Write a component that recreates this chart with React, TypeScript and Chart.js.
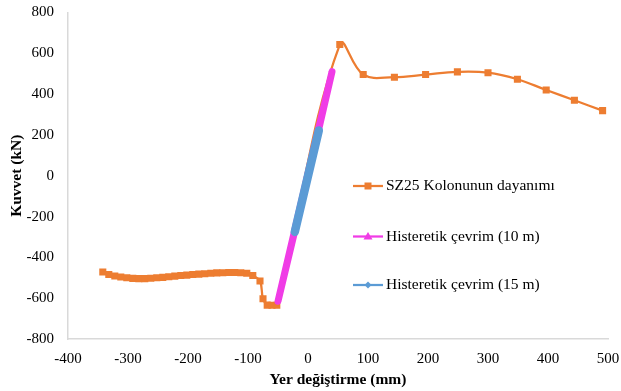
import React, { useEffect, useRef } from 'react';
import { Chart, registerables } from 'chart.js';

Chart.register(...registerables);

// SZ25 column resistance curve
const resistanceX = [-342, -332, -322, -312, -302, -292, -282, -272, -262, -252, -242, -232, -222, -212, -202, -192, -182, -172, -162, -152, -142, -132, -122, -112, -102, -92, -80, -75, -68, -60, -52, 53, 92, 144, 196, 249, 300, 349, 397, 444, 491];
const resistanceY = [-472, -484, -491, -496, -500, -503, -504, -504, -502, -500, -498, -495, -492, -489, -487, -484, -482, -480, -478, -476, -475, -474, -474, -475, -478, -489, -516, -603, -634, -635, -635, 643, 496, 483, 496, 509, 505, 473, 420, 370, 319];

// Hysteretic cycle (10 m)
const cycle10X = [0, 40, -50, 0];
const cycle10Y = [0, 510, -615, 0];

// Hysteretic cycle (15 m)
const cycle15X = [0, 18, -22, 0];
const cycle15Y = [0, 222, -275, 0];

const seriesLabels = ['SZ25 Kolonunun dayanımı', 'Histeretik çevrim (10 m)', 'Histeretik çevrim (15 m)'];
const seriesColors = ['#ED7D31', '#F03CE6', '#5B9BD5'];

const xMin = -400, xMax = 500, xStep = 100;
const yMin = -800, yMax = 800, yStep = 200;
const xTitle = 'Yer değiştirme (mm)';
const yTitle = 'Kuvvet (kN)';

const SERIF = '"Liberation Serif", "Times New Roman", serif';

const zip = (xs: number[], ys: number[]) => xs.map((x, i) => ({ x, y: ys[i] }));

const legendPlugin = {
  id: 'customLegend',
  afterDraw(chart: any) {
    const ctx = chart.ctx as CanvasRenderingContext2D;
    const rows = [186, 236.5, 285];
    const x0 = 353, x1 = 383, mx = 368, tx = 386;
    ctx.save();
    rows.forEach((y, i) => {
      const c = seriesColors[i];
      ctx.strokeStyle = c;
      ctx.fillStyle = c;
      ctx.lineWidth = 2.25;
      ctx.beginPath();
      ctx.moveTo(x0, y);
      ctx.lineTo(x1, y);
      ctx.stroke();
      ctx.beginPath();
      if (i === 0) {
        ctx.rect(mx - 3.5, y - 3.5, 7, 7);
      } else if (i === 1) {
        ctx.moveTo(mx, y - 4.5);
        ctx.lineTo(mx + 4.5, y + 3);
        ctx.lineTo(mx - 4.5, y + 3);
        ctx.closePath();
      } else {
        ctx.moveTo(mx, y - 3.5);
        ctx.lineTo(mx + 3.5, y);
        ctx.lineTo(mx, y + 3.5);
        ctx.lineTo(mx - 3.5, y);
        ctx.closePath();
      }
      ctx.fill();
      ctx.fillStyle = '#000';
      ctx.font = '15.5px ' + SERIF;
      ctx.textBaseline = 'middle';
      ctx.textAlign = 'left';
      ctx.fillText(seriesLabels[i], tx, y);
    });
    ctx.restore();
  },
};

export default function App() {
  const ref = useRef<HTMLCanvasElement | null>(null);

  useEffect(() => {
    if (!ref.current) return;
    const chart = new Chart(ref.current, {
      type: 'scatter',
      data: {
        datasets: [
          {
            label: seriesLabels[0],
            data: zip(resistanceX, resistanceY),
            showLine: true,
            borderColor: seriesColors[0],
            backgroundColor: seriesColors[0],
            borderWidth: 2.25,
            tension: 0.4,
            pointStyle: 'rect',
            pointRadius: 5,
            pointBorderWidth: 0,
            order: 3,
          },
          {
            label: seriesLabels[1],
            data: zip(cycle10X, cycle10Y),
            showLine: true,
            borderColor: seriesColors[1],
            backgroundColor: seriesColors[1],
            borderWidth: 7,
            borderCapStyle: 'round',
            borderJoinStyle: 'round',
            pointRadius: 0,
            tension: 0,
            order: 2,
          },
          {
            label: seriesLabels[2],
            data: zip(cycle15X, cycle15Y),
            showLine: true,
            borderColor: seriesColors[2],
            backgroundColor: seriesColors[2],
            borderWidth: 8.5,
            borderCapStyle: 'round',
            borderJoinStyle: 'round',
            pointRadius: 0,
            tension: 0,
            order: 1,
          },
        ],
      },
      options: {
        responsive: false,
        animation: false,
        devicePixelRatio: 1,
        layout: { padding: { top: 12.5, right: 13, left: 0, bottom: 0 } },
        plugins: { legend: { display: false }, tooltip: { enabled: false } },
        scales: {
          x: {
            type: 'linear',
            min: xMin,
            max: xMax,
            afterFit: (s: any) => { s.height = 52; s.paddingLeft = 0; s.paddingRight = 0; },
            ticks: { stepSize: xStep, padding: 11, color: '#000', font: { family: SERIF, size: 15 } },
            grid: { display: false, drawTicks: false },
            border: { display: true, color: '#D9D9D9', width: 1.5 },
            title: { display: true, text: xTitle, color: '#000', padding: { top: 0, bottom: 2 }, font: { family: SERIF, size: 15.5, weight: 'bold' } },
          },
          y: {
            type: 'linear',
            min: yMin,
            max: yMax,
            afterFit: (s: any) => { s.width = 68; s.paddingTop = 0; s.paddingBottom = 0; },
            ticks: { stepSize: yStep, padding: 14, color: '#000', font: { family: SERIF, size: 15 } },
            grid: { display: false, drawTicks: false },
            border: { display: true, color: '#D9D9D9', width: 1.5 },
            title: { display: true, text: yTitle, color: '#000', padding: { top: 7.5, bottom: 0 }, font: { family: SERIF, size: 15.5, weight: 'bold' } },
          },
        },
      },
      plugins: [legendPlugin],
    } as any);
    return () => chart.destroy();
  }, []);

  return (
    <div style={{ position: 'fixed', left: 0, top: 0, width: 621, height: 391, background: '#fff' }}>
      <canvas ref={ref} width={621} height={391} style={{ display: 'block' }} />
    </div>
  );
}
